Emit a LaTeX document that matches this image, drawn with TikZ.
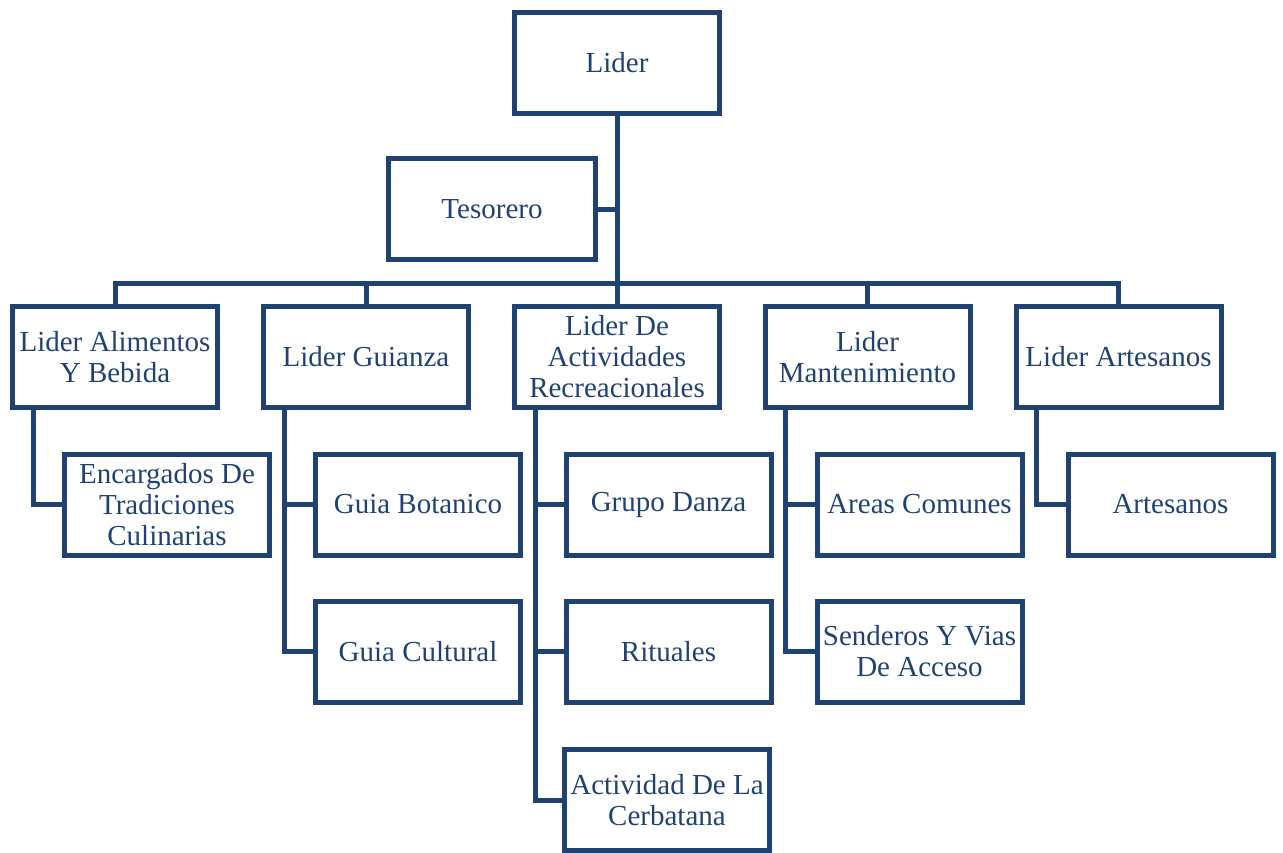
\documentclass[tikz,border=0pt]{standalone}
\usepackage{fontspec}
\setmainfont{Liberation Serif}
\definecolor{navy}{HTML}{1F4272}
\begin{document}
\begin{tikzpicture}[x=1pt,y=-1pt,
  unit/.style={draw=navy, line width=5pt, minimum width=205pt, minimum height=101pt,
    inner sep=0pt, outer sep=0pt, align=center, text=navy,
    font=\fontsize{29}{31}\selectfont},
  link/.style={draw=navy, line width=5pt}]
\useasboundingbox (0,0) rectangle (1283,853);
% top of the chart
\node[unit] (lider) at (617,63) {Lider};
\node[unit, minimum width=207pt] (teso) at (492,209.5) {Tesorero};
\coordinate (bus) at (617,284);
% second level
\node[unit] (alim) at (115,357) {Lider Alimentos\\Y Bebida};
\node[unit] (guia) at (366,357) {Lider Guianza};
\node[unit] (act)  at (617,357) {Lider De\\Actividades\\Recreacionales};
\node[unit] (mant) at (867.5,357) {Lider\\Mantenimiento};
\node[unit] (art)  at (1118.5,357) {Lider Artesanos};
% third level
\node[unit] (culin) at (167,504.5) {Encargados De\\Tradiciones\\Culinarias};
\node[unit] (bot)   at (418,504.5) {Guia Botanico};
\node[unit] (cult)  at (418,651.5) {Guia Cultural};
\node[unit] (danza) at (668.5,504.5) {Grupo Danza};
\node[unit] (rit)   at (668.5,651.5) {Rituales};
\node[unit] (cerb)  at (667,800) {Actividad De La\\Cerbatana};
\node[unit] (areas) at (919.5,504.5) {Areas Comunes};
\node[unit] (send)  at (919.5,651.5) {Senderos Y Vias\\De Acceso};
\node[unit] (artes) at (1170.5,504.5) {Artesanos};
% trunk and bus
\draw[link] (lider.south) -- (bus);
\draw[link] (teso.east) -- (teso.east -| lider.south);
\foreach \n in {alim,guia,act,mant,art}
  \draw[link] (bus) -| (\n.north);
% branches to the third level
\draw[link] ([xshift=-82pt]alim.south) |- (culin.west);
\draw[link] ([xshift=-82pt]guia.south) |- (cult.west);
\draw[link] ([xshift=-82pt]guia.south |- bot.west) -- (bot.west);
\draw[link] ([xshift=-82pt]act.south) |- (cerb.west);
\draw[link] ([xshift=-82pt]act.south |- danza.west) -- (danza.west);
\draw[link] ([xshift=-82pt]act.south |- rit.west) -- (rit.west);
\draw[link] ([xshift=-82pt]mant.south) |- (send.west);
\draw[link] ([xshift=-82pt]mant.south |- areas.west) -- (areas.west);
\draw[link] ([xshift=-82pt]art.south) |- (artes.west);
\end{tikzpicture}
\end{document}
